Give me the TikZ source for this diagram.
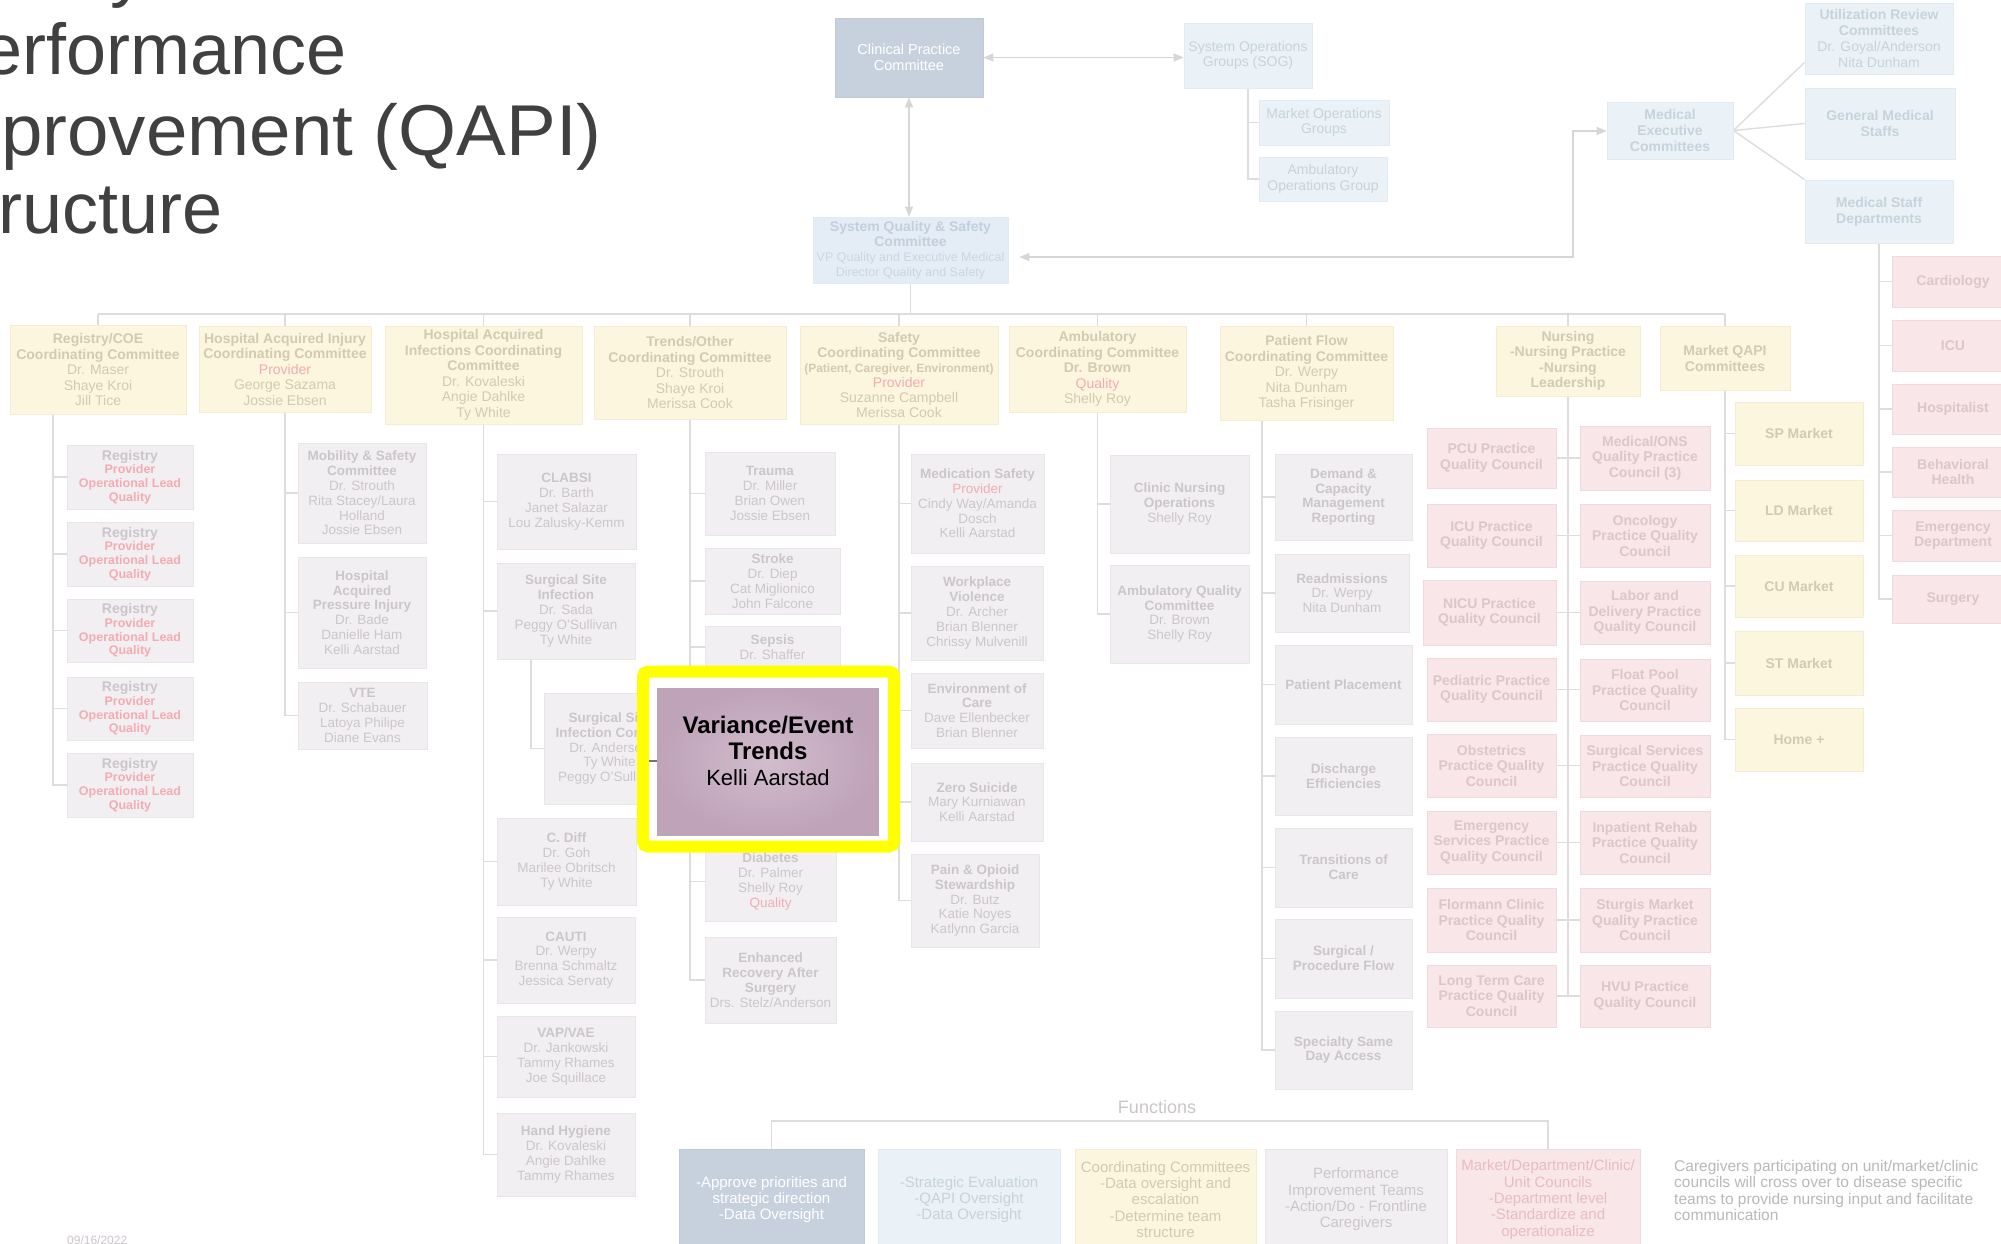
\documentclass[tikz,border=0pt]{standalone}
\usepackage{fontspec}
\setmainfont{Liberation Sans}
\usetikzlibrary{arrows.meta,calc,backgrounds}
\pgfdeclarelayer{bgzero}
\pgfsetlayers{bgzero,background,main}
\definecolor{lc}{HTML}{DDDDDD}
\definecolor{ac}{HTML}{D6D6D6}
\definecolor{yfill}{HTML}{FDF6DF}
\definecolor{yline}{HTML}{F5ECD1}
\definecolor{ytext}{HTML}{D2CAB1}
\definecolor{gfill}{HTML}{F2EFF2}
\definecolor{gline}{HTML}{E9E5E9}
\definecolor{gtext}{HTML}{CBC6CB}
\definecolor{pfill}{HTML}{F8E6E8}
\definecolor{pline}{HTML}{F0DADD}
\definecolor{ptext}{HTML}{DCC6C9}
\definecolor{bfill}{HTML}{EAF2F7}
\definecolor{bline}{HTML}{E2EBF1}
\definecolor{btext}{HTML}{C6D3DC}
\definecolor{sfill}{HTML}{E4EDF5}
\definecolor{stext}{HTML}{C2CFDC}
\definecolor{ssub}{HTML}{C9D6E2}
\definecolor{dfill}{HTML}{C7D1DE}
\definecolor{dline}{HTML}{BFCAD8}
\definecolor{redt}{HTML}{F4ABB2}
\definecolor{ftext}{HTML}{E8BCC2}
\definecolor{ttlc}{HTML}{404040}
\definecolor{notec}{HTML}{B9B9B9}
\definecolor{mauveA}{HTML}{D2BCCD}
\definecolor{mauveB}{HTML}{BFA3B9}
\definecolor{hlyellow}{HTML}{FFFF00}
\newcommand\fs[2]{\fontsize{#1}{#2}\selectfont}
\newcommand\rd[1]{\textcolor{redt}{#1}}
\newcommand\mybox[7]{\node[#2, minimum width={(#5-#3)*1pt}, minimum height={(#6-#4)*1pt}] (#1) at ({(#3+#5)/2},{(#4+#6)/2}) {#7};}
\begin{document}
\begin{tikzpicture}[x=1pt,y=-1pt,
  conn/.style={draw=lc, line width=1.4pt},
  arr/.style={draw=ac, line width=1.3pt, {Triangle[length=10pt,width=8pt]}-{Triangle[length=10pt,width=8pt]}},
  box/.style={rectangle, inner sep=0pt, align=center, line width=0.8pt, font=\fs{14}{15.5}},
  ybx/.style={box, fill=yfill, draw=yline, text=ytext},
  gbx/.style={box, fill=gfill, draw=gline, text=gtext, font=\fs{13.5}{14.8}},
  pbx/.style={box, fill=pfill, draw=pline, text=ptext, font=\bfseries\fs{14}{15.5}},
  bbx/.style={box, fill=bfill, draw=bline, text=btext},
  dbx/.style={box, fill=dfill, draw=dline, text=white},
  ttl/.style={inner sep=0pt, text=ttlc, font=\fs{72}{80}},
  fbx/.style={box, font=\fs{15}{16.3}}
]
\useasboundingbox (0,0) rectangle (2001,1243);
\begin{pgfonlayer}{bgzero}
\fill[white] (0,0) rectangle (2001,1243);
\end{pgfonlayer}

% title fragments
\node[ttl, anchor=base west] (ttl0) at (110,-7) {y};
\node[ttl, anchor=base west] (ttl1) at (-18,74) {erformance};
\node[ttl, anchor=base west] (ttl2) at (1,155) {\scalebox{1.035}[1]{provement (QAPI)}};
\node[ttl, anchor=base west] (ttl3) at (-2,233) {ructure};

% top level
\mybox{cpc}{dbx,font=\fs{14.5}{16}}{835}{18}{983}{97}{Clinical Practice\\Committee}
\mybox{sog}{bbx}{1184}{23}{1312}{88}{System Operations\\Groups (SOG)}
\mybox{mog}{bbx}{1259}{100}{1389}{145}{Market Operations\\Groups}
\mybox{aog}{bbx}{1259}{157}{1387}{201}{Ambulatory\\Operations Group}
\mybox{sqs}{bbx,fill=sfill,text=stext,font=\fs{12.5}{15}}{813}{217}{1008}{283}{{\bfseries\fs{14}{15}System Quality \& Safety}\\{\bfseries\fs{14}{15}Committee}\\\textcolor{ssub}{VP Quality and Executive Medical}\\\textcolor{ssub}{Director Quality and Safety}}
\mybox{mec}{bbx,font=\bfseries\fs{14}{16}}{1607}{102}{1733}{159}{Medical\\Executive\\Committees}
\mybox{ur}{bbx,font=\fs{14}{16}}{1805}{3}{1953}{74}{\textbf{Utilization Review}\\\textbf{Committees}\\Dr. Goyal/Anderson\\Nita Dunham}
\mybox{gms}{bbx,font=\bfseries\fs{14}{16}}{1805}{88}{1955}{159}{General Medical\\Staffs}
\mybox{msd}{bbx,font=\bfseries\fs{14}{16}}{1805}{180}{1953}{243}{Medical Staff\\Departments}

% medical staff departments
\mybox{cardio}{pbx}{1892}{256}{2014}{307}{Cardiology}
\mybox{icu}{pbx}{1892}{320}{2014}{371}{ICU}
\mybox{hosp}{pbx}{1892}{384}{2014}{434}{Hospitalist}
\mybox{bh}{pbx}{1892}{447}{2014}{497}{Behavioral\\Health}
\mybox{ed}{pbx}{1892}{510}{2014}{561}{Emergency\\Department}
\mybox{surg}{pbx}{1892}{575}{2014}{623}{Surgery}

% coordinating committees
\mybox{regcoe}{ybx}{10}{325}{186}{414}{\textbf{Registry/COE}\\\textbf{Coordinating Committee}\\Dr. Maser\\Shaye Kroi\\Jill Tice}
\mybox{haij}{ybx}{199}{326}{371}{412}{\textbf{Hospital Acquired Injury}\\\textbf{Coordinating Committee}\\\rd{Provider}\\George Sazama\\Jossie Ebsen}
\mybox{haif}{ybx}{385}{326}{582}{424}{\textbf{Hospital Acquired}\\\textbf{Infections Coordinating}\\\textbf{Committee}\\Dr. Kovaleski\\Angie Dahlke\\Ty White}
\mybox{trends}{ybx}{594}{326}{786}{419}{\textbf{Trends/Other}\\\textbf{Coordinating Committee}\\Dr. Strouth\\Shaye Kroi\\Merissa Cook}
\mybox{safety}{ybx,font=\fs{14}{15}}{800}{326}{998}{424}{\textbf{Safety}\\\textbf{Coordinating Committee}\\{\bfseries\fs{12}{15}(Patient, Caregiver, Environment)}\\\rd{Provider}\\Suzanne Campbell\\Merissa Cook}
\mybox{amb}{ybx}{1009}{326}{1186}{412}{\textbf{Ambulatory}\\\textbf{Coordinating Committee}\\\textbf{Dr. Brown}\\\rd{Quality}\\Shelly Roy}
\mybox{pf}{ybx}{1220}{326}{1393}{420}{\textbf{Patient Flow}\\\textbf{Coordinating Committee}\\Dr. Werpy\\Nita Dunham\\Tasha Frisinger}
\mybox{nurs}{ybx,font=\bfseries\fs{14}{15.5}}{1496}{326}{1640}{396}{Nursing\\-Nursing Practice\\-Nursing\\Leadership}
\mybox{mqapi}{ybx,font=\bfseries\fs{14}{16}}{1660}{326}{1790}{390}{Market QAPI\\Committees}

% registry column
\foreach \n/\ya/\yb in {reg1/445/509, reg2/522/586, reg3/599/662, reg4/677/740, reg5/753/817}{
  \mybox{\n}{gbx,font=\bfseries\fs{12.5}{13.8}}{67}{\ya}{193}{\yb}{{\fs{14}{13.8}Registry}\\\rd{Provider}\\\rd{Operational Lead}\\\rd{Quality}}
}

% hospital acquired injury column
\mybox{mob}{gbx}{298}{443}{426}{543}{\textbf{Mobility \& Safety}\\\textbf{Committee}\\Dr. Strouth\\Rita Stacey/Laura\\Holland\\Jossie Ebsen}
\mybox{hapi}{gbx}{298}{557}{426}{668}{\textbf{Hospital}\\\textbf{Acquired}\\\textbf{Pressure Injury}\\Dr. Bade\\Danielle Ham\\Kelli Aarstad}
\mybox{vte}{gbx}{298}{682}{427}{749}{\textbf{VTE}\\Dr. Schabauer\\Latoya Philipe\\Diane Evans}

% hospital acquired infections column
\mybox{clabsi}{gbx}{497}{454}{636}{549}{\textbf{CLABSI}\\Dr. Barth\\Janet Salazar\\Lou Zalusky-Kemm}
\mybox{ssi}{gbx}{497}{563}{635}{659}{\textbf{Surgical Site}\\\textbf{Infection}\\Dr. Sada\\Peggy O'Sullivan\\Ty White}
\mybox{ssic}{gbx}{544}{693}{675}{804}{\textbf{Surgical Site}\\\textbf{Infection Control}\\Dr. Anderson\\Ty White\\Peggy O'Sullivan}
\mybox{cdiff}{gbx}{497}{818}{636}{905}{\textbf{C. Diff}\\Dr. Goh\\Marilee Obritsch\\Ty White}
\mybox{cauti}{gbx}{497}{917}{635}{1003}{\textbf{CAUTI}\\Dr. Werpy\\Brenna Schmaltz\\Jessica Servaty}
\mybox{vap}{gbx}{497}{1016}{635}{1097}{\textbf{VAP/VAE}\\Dr. Jankowski\\Tammy Rhames\\Joe Squillace}
\mybox{hh}{gbx}{497}{1113}{635}{1196}{\textbf{Hand Hygiene}\\Dr. Kovaleski\\Angie Dahlke\\Tammy Rhames}

% trends column
\mybox{trauma}{gbx}{705}{452}{835}{535}{\textbf{Trauma}\\Dr. Miller\\Brian Owen\\Jossie Ebsen}
\mybox{stroke}{gbx}{705}{548}{840}{614}{\textbf{Stroke}\\Dr. Diep\\Cat Miglionico\\John Falcone}
\mybox{sepsis}{gbx}{705}{626}{840}{668}{\textbf{Sepsis}\\Dr. Shaffer}
\mybox{diab}{gbx}{705}{842}{836}{921}{\textbf{Diabetes}\\Dr. Palmer\\Shelly Roy\\\rd{Quality}}
\mybox{eras}{gbx}{705}{937}{836}{1023}{\textbf{Enhanced}\\\textbf{Recovery After}\\\textbf{Surgery}\\Drs. Stelz/Anderson}

% safety column
\mybox{med}{gbx}{911}{454}{1044}{553}{\textbf{Medication Safety}\\\rd{Provider}\\Cindy Way/Amanda\\Dosch\\Kelli Aarstad}
\mybox{wpv}{gbx}{911}{566}{1043}{660}{\textbf{Workplace}\\\textbf{Violence}\\Dr. Archer\\Brian Blenner\\Chrissy Mulvenill}
\mybox{eoc}{gbx}{911}{673}{1043}{748}{\textbf{Environment of}\\\textbf{Care}\\Dave Ellenbecker\\Brian Blenner}
\mybox{zs}{gbx}{911}{763}{1043}{841}{\textbf{Zero Suicide}\\Mary Kurniawan\\Kelli Aarstad}
\mybox{pain}{gbx}{911}{854}{1039}{947}{\textbf{Pain \& Opioid}\\\textbf{Stewardship}\\Dr. Butz\\Katie Noyes\\Katlynn Garcia}

% ambulatory column
\mybox{cno}{gbx}{1110}{455}{1249}{553}{\textbf{Clinic Nursing}\\\textbf{Operations}\\Shelly Roy}
\mybox{aqc}{gbx}{1110}{565}{1249}{663}{\textbf{Ambulatory Quality}\\\textbf{Committee}\\Dr. Brown\\Shelly Roy}

% patient flow column
\mybox{dcm}{gbx,font=\bfseries\fs{13.5}{14.8}}{1275}{454}{1412}{540}{Demand \&\\Capacity\\Management\\Reporting}
\mybox{readm}{gbx}{1275}{554}{1409}{632}{\textbf{Readmissions}\\Dr. Werpy\\Nita Dunham}
\mybox{pp}{gbx,font=\bfseries\fs{13.5}{14.8}}{1275}{645}{1412}{724}{Patient Placement}
\mybox{de}{gbx,font=\bfseries\fs{13.5}{14.8}}{1275}{737}{1412}{815}{Discharge\\Efficiencies}
\mybox{toc}{gbx,font=\bfseries\fs{13.5}{14.8}}{1275}{828}{1412}{907}{Transitions of\\Care}
\mybox{spf}{gbx,font=\bfseries\fs{13.5}{14.8}}{1275}{919}{1412}{998}{Surgical /\\Procedure Flow}
\mybox{ssda}{gbx,font=\bfseries\fs{13.5}{14.8}}{1275}{1011}{1412}{1089}{Specialty Same\\Day Access}

% nursing councils
\mybox{pcu}{pbx}{1427}{428}{1556}{488}{PCU Practice\\Quality Council}
\mybox{icuc}{pbx}{1427}{504}{1556}{567}{ICU Practice\\Quality Council}
\mybox{nicu}{pbx}{1423}{580}{1556}{645}{NICU Practice\\Quality Council}
\mybox{ped}{pbx}{1427}{658}{1556}{721}{Pediatric Practice\\Quality Council}
\mybox{obs}{pbx}{1427}{734}{1556}{797}{Obstetrics\\Practice Quality\\Council}
\mybox{esc}{pbx}{1427}{811}{1556}{874}{Emergency\\Services Practice\\Quality Council}
\mybox{flor}{pbx}{1427}{888}{1556}{952}{Flormann Clinic\\Practice Quality\\Council}
\mybox{ltc}{pbx}{1427}{965}{1556}{1027}{Long Term Care\\Practice Quality\\Council}
\mybox{mons}{pbx}{1580}{426}{1710}{490}{Medical/ONS\\Quality Practice\\Council (3)}
\mybox{onc}{pbx}{1580}{504}{1710}{567}{Oncology\\Practice Quality\\Council}
\mybox{ld}{pbx}{1580}{581}{1710}{644}{Labor and\\Delivery Practice\\Quality Council}
\mybox{fp}{pbx}{1580}{659}{1710}{721}{Float Pool\\Practice Quality\\Council}
\mybox{ss}{pbx}{1580}{735}{1710}{797}{Surgical Services\\Practice Quality\\Council}
\mybox{ir}{pbx}{1580}{811}{1710}{874}{Inpatient Rehab\\Practice Quality\\Council}
\mybox{stu}{pbx}{1580}{888}{1710}{952}{Sturgis Market\\Quality Practice\\Council}
\mybox{hvu}{pbx}{1580}{965}{1710}{1027}{HVU Practice\\Quality Council}

% market column
\mybox{spm}{ybx,font=\bfseries\fs{14}{16}}{1735}{402}{1863}{465}{SP Market}
\mybox{ldm}{ybx,font=\bfseries\fs{14}{16}}{1735}{480}{1863}{541}{LD Market}
\mybox{cum}{ybx,font=\bfseries\fs{14}{16}}{1735}{555}{1863}{617}{CU Market}
\mybox{stm}{ybx,font=\bfseries\fs{14}{16}}{1735}{631}{1863}{695}{ST Market}
\mybox{home}{ybx,font=\bfseries\fs{14}{16}}{1735}{708}{1863}{771}{Home +}

% functions
\node[text=gtext, font=\fs{18}{20}, inner sep=0pt] (fnt) at (1157,1107) {Functions};
\mybox{fa}{fbx,fill=dfill,draw=dline,text=white}{679}{1149}{864}{1250}{-Approve priorities and\\strategic direction\\-Data Oversight}
\mybox{fb}{fbx,fill=bfill,draw=bline,text=btext}{878}{1149}{1060}{1250}{-Strategic Evaluation\\-QAPI Oversight\\-Data Oversight}
\mybox{fc}{fbx,fill=yfill,draw=yline,text=ytext}{1075}{1149}{1256}{1250}{Coordinating Committees\\-Data oversight and\\escalation\\-Determine team\\structure}
\mybox{fd}{fbx,fill=gfill,draw=gline,text=gtext}{1265}{1149}{1447}{1250}{Performance\\Improvement Teams\\-Action/Do - Frontline\\Caregivers}
\mybox{fe}{fbx,fill=pfill,draw=pline,text=ftext}{1456}{1149}{1640}{1250}{Market/Department/Clinic/\\Unit Councils\\-Department level\\-Standardize and\\operationalize}
\node[anchor=north west, align=left, inner sep=0pt, text=notec, font=\fs{15.5}{16.3}] (note) at (1674,1160) {Caregivers participating on unit/market/clinic\\councils will cross over to disease specific\\teams to provide nursing input and facilitate\\communication};
\node[anchor=base west, inner sep=0pt, text=gtext, font=\fs{12}{13}] (date) at (67,1244) {09/16/2022};

% connectors
\begin{pgfonlayer}{background}
\draw[arr] (cpc.east) -- (cpc.east -| sog.west);
\draw[arr] (cpc.south) -- (cpc.south |- sqs.north);
\coordinate (mecB) at (1573,257);
\coordinate (mecT) at (1573,131);
\draw[arr, shorten <=11pt] (sqs.east |- mecB) -- (mecB) -- (mecT) -- (mec.west |- mecT);
\draw[conn] (sog.south) |- (mog.west);
\draw[conn] (sog.south) |- (aog.west);
\draw[conn] (mec.east) -- ($(ur.south west)+(0,-12)$);
\draw[conn] (mec.east) -- (gms.west);
\draw[conn] (mec.east) -- (msd.north west);
\foreach \n in {cardio,icu,hosp,bh,ed,surg} \draw[conn] (msd.south) |- (\n.west);
\coordinate (busL) at (98,314);
\coordinate (busR) at (1725,314);
\draw[conn] (busL) -- (busR);
\draw[conn] (sqs.south) -- (sqs.south |- busL);
\foreach \n in {regcoe,haij,haif,trends,safety,amb,pf,nurs,mqapi} \draw[conn] (\n.north) -- (\n.north |- busL);
\coordinate (vReg) at (53,414);
\foreach \n in {reg1,reg2,reg3,reg4,reg5} \draw[conn] (vReg) |- (\n.west);
\foreach \n in {mob,hapi,vte} \draw[conn] (haij.south) |- (\n.west);
\foreach \n in {clabsi,ssi,cdiff,cauti,vap,hh} \draw[conn] (haif.south) |- (\n.west);
\coordinate (vSSI) at (531,659);
\draw[conn] (vSSI) |- (ssic.west);
\foreach \n in {trauma,stroke,sepsis,diab,eras} \draw[conn] (trends.south) |- (\n.west);
\foreach \n in {med,wpv,eoc,zs,pain} \draw[conn] (safety.south) |- (\n.west);
\foreach \n in {cno,aqc} \draw[conn] (amb.south) |- (\n.west);
\coordinate (vPF) at (1262,420);
\foreach \n in {dcm,readm,pp,de,toc,spf,ssda} \draw[conn] (vPF) |- (\n.west);
\draw[conn] (nurs.south) -- (nurs.south |- ltc.east);
\foreach \a/\b in {pcu/mons,icuc/onc,nicu/ld,ped/fp,obs/ss,esc/ir,flor/stu,ltc/hvu} \draw[conn] (\a.east) -- (\a.east -| \b.west);
\foreach \n in {spm,ldm,cum,stm,home} \draw[conn] (mqapi.south) |- (\n.west);
\coordinate (fnbar) at (0,1121);
\draw[conn] (fa.north) -- (fa.north |- fnbar) -- (fe.north |- fnbar) -- (fe.north);
\end{pgfonlayer}

% highlight
\node[draw=hlyellow, line width=12pt, rounded corners=5pt, fill=white, minimum width=251pt, minimum height=175pt, inner sep=0pt] (hl) at (768.5,759) {};
\mybox{vet}{box, inner color=mauveA, outer color=mauveB, draw=mauveB}{657}{688}{878}{835}{}
\node[align=center, inner sep=0pt, text=black, font=\fs{22}{26}] (vettext) at (768,751) {{\bfseries\fs{24}{26}Variance/Event}\\{\bfseries\fs{24}{26}Trends}\\Kelli Aarstad};
\coordinate (tickA) at (649,761);
\draw[draw=black!55, line width=1.5pt] (tickA) -- (vet.west |- tickA);
\end{tikzpicture}
\end{document}
